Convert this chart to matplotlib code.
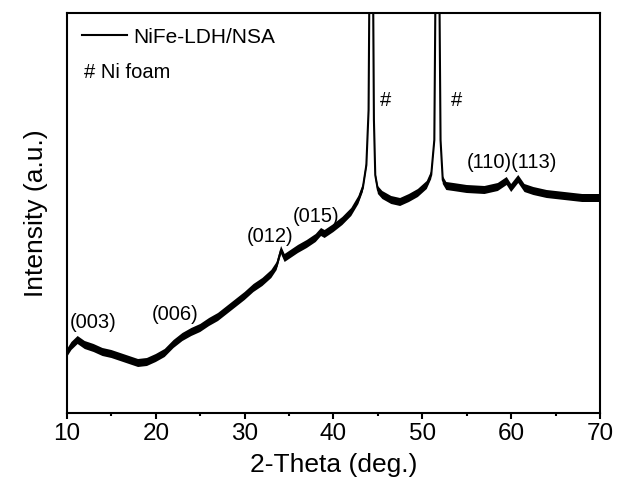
import matplotlib
matplotlib.use("Agg")
import matplotlib.pyplot as plt
import numpy as np

plt.rcParams['font.family'] = ['Liberation Sans', 'DejaVu Sans']

# 2-Theta (deg.) and intensity (a.u.)
two_theta = [10, 10.5, 11.2, 12, 13, 14, 15, 16, 17, 18, 19, 20, 21, 22, 23, 24, 25, 26, 27, 28,
             29, 30, 31, 32, 33, 33.6, 34.1, 34.5, 35, 36, 37, 38, 38.6, 39, 40, 41, 42, 42.8,
             43.3, 43.7, 43.95, 44.1, 44.25, 44.4, 44.55, 44.7, 45.0, 45.5, 46.5, 47.5, 48.5,
             49.5, 50.5, 51.0, 51.35, 51.55, 51.7, 51.85, 52.05, 52.3, 52.7, 53.5, 55, 57, 58.5,
             59.5, 60.0, 60.8, 61.5, 62.5, 64, 66, 68, 70]
intensity = [60, 67, 73, 68, 65, 61, 59, 56, 53, 50, 51, 55, 60, 69, 76, 81, 85, 91, 96, 103,
             110, 117, 125, 131, 139, 147, 163, 155, 158, 164, 169, 175, 181, 179, 185, 192, 201, 213,
             225, 248, 303, 506, 906, 506, 293, 238, 223, 218, 213, 211, 215,
             220, 228, 238, 273, 506, 906, 506, 273, 233, 227, 226, 224, 223, 226,
             232, 225, 234, 225, 222, 219, 217, 215, 215]

peak_labels = ["(003)", "(006)", "(012)", "(015)", "#", "#", "(110)(113)"]
label_x = [12.93, 22.16, 32.85, 38.03, 45.8, 53.9, 60.1]
label_y = [90, 98, 176, 196, 313, 313, 250]

series_name = "NiFe-LDH/NSA"
note = "# Ni foam"

fig = plt.figure(figsize=(6.19, 4.97), dpi=100)
ax = fig.add_axes([67/619, (497-413)/497, 533/619, 400/497])

x = np.array(two_theta, dtype=float)
y = np.array(intensity, dtype=float)
band = 4.0
ax.fill_between(x, y - band, y + band, color='black', lw=0)
ax.plot(x, y, color='black', lw=1.5, label=series_name)

for t, lx, ly in zip(peak_labels, label_x, label_y):
    ax.text(lx, ly, t, ha='center', va='center', fontsize=14.5)

ax.set_xlim(10, 70)
ax.set_ylim(0, 400)
ax.set_xticks([10, 20, 30, 40, 50, 60, 70])
ax.set_xticks([15, 25, 35, 45, 55, 65], minor=True)
ax.set_yticks([])
ax.tick_params(axis='x', which='major', direction='out', length=4, width=1.5,
               labelsize=17.5, pad=3)
ax.tick_params(axis='x', which='minor', direction='out', length=2, width=1.5)
for s in ax.spines.values():
    s.set_linewidth(1.5)

ax.set_xlabel("2-Theta (deg.)", fontsize=19, labelpad=6)
ax.set_ylabel("Intensity (a.u.)", fontsize=19, labelpad=14)

leg = ax.legend(loc='upper left', frameon=False, fontsize=15, handlelength=2.2,
                handletextpad=0.3, borderaxespad=0.3, bbox_to_anchor=(0.0, 1.0))
ax.text(0.032, 0.85, note, transform=ax.transAxes, ha='left', va='center', fontsize=14.5)

fig.savefig("out.png", dpi=100)
